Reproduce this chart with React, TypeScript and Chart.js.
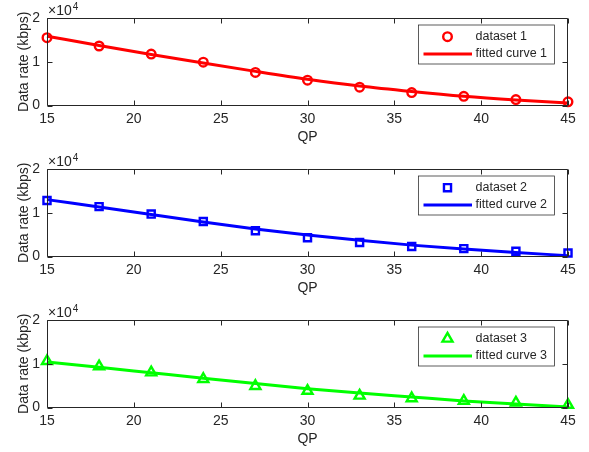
import React, { useEffect, useRef } from 'react';
import { Chart, registerables } from 'chart.js';

Chart.register(...registerables);

// ---- Data ----
const qp = [15, 18, 21, 24, 27, 30, 33, 36, 39, 42, 45];
const xTickValues = [15, 20, 25, 30, 35, 40, 45];
const yTickValues = [0, 1, 2]; // x 10^4

const dataset1 = [15500, 13600, 11750, 9900, 7550, 5800, 4200, 2950, 2100, 1350, 850];
const fitted1 = [15850, 13700, 11650, 9700, 7800, 6000, 4450, 3200, 2100, 1250, 550];

const dataset2 = [12800, 11400, 9700, 8000, 5900, 4300, 3200, 2300, 1800, 1200, 800];
const fitted2 = [13000, 11300, 9600, 7900, 6300, 4900, 3700, 2600, 1700, 900, 200];

const dataset3 = [10600, 9400, 8000, 6500, 4900, 3800, 2700, 2100, 1500, 1100, 600];
const fitted3 = [10400, 9200, 7950, 6700, 5500, 4300, 3300, 2400, 1500, 800, 100];

const legendLabels1 = ['dataset 1', 'fitted curve 1'];
const legendLabels2 = ['dataset 2', 'fitted curve 2'];
const legendLabels3 = ['dataset 3', 'fitted curve 3'];

const FONT = "'Liberation Sans', Arial, Helvetica, sans-serif";
const AXIS = '#262626';

type Marker = 'circle' | 'rect' | 'triangle';

function drawMarker(ctx: CanvasRenderingContext2D, style: Marker, x: number, y: number, r: number) {
  ctx.beginPath();
  if (style === 'circle') {
    ctx.arc(x, y, r, 0, Math.PI * 2);
  } else if (style === 'rect') {
    const s = r * Math.SQRT1_2;
    ctx.rect(x - s, y - s, 2 * s, 2 * s);
  } else {
    let rad = 0;
    ctx.moveTo(x + Math.sin(rad) * r, y - Math.cos(rad) * r);
    rad += (2 * Math.PI) / 3;
    ctx.lineTo(x + Math.sin(rad) * r, y - Math.cos(rad) * r);
    rad += (2 * Math.PI) / 3;
    ctx.lineTo(x + Math.sin(rad) * r, y - Math.cos(rad) * r);
    ctx.closePath();
  }
  ctx.stroke();
}

const matlabPlugin = {
  id: 'matlabAxes',
  afterDraw(chart: any, _args: any, opts: any) {
    const ctx: CanvasRenderingContext2D = chart.ctx;
    const { left, right, top, bottom } = chart.chartArea;
    const xs = chart.scales.x;
    const ys = chart.scales.y;
    ctx.save();
    // box
    ctx.strokeStyle = AXIS;
    ctx.lineWidth = 1;
    const L = Math.round(left) + 0.5;
    const R = Math.round(right) - 0.5;
    const T = Math.round(top) + 0.5;
    const B = Math.round(bottom) - 0.5;
    ctx.beginPath();
    ctx.rect(L, T, R - L, B - T);
    ctx.stroke();
    // inward ticks
    const tl = 5;
    ctx.beginPath();
    xTickValues.forEach((v) => {
      const px = Math.round(xs.getPixelForValue(v)) + 0.5;
      ctx.moveTo(px, B);
      ctx.lineTo(px, B - tl);
      ctx.moveTo(px, T);
      ctx.lineTo(px, T + tl);
    });
    yTickValues.forEach((v) => {
      const py = Math.round(ys.getPixelForValue(v * 10000)) + 0.5;
      ctx.moveTo(L, py);
      ctx.lineTo(L + tl, py);
      ctx.moveTo(R, py);
      ctx.lineTo(R - tl, py);
    });
    ctx.stroke();

    // exponent label
    ctx.fillStyle = AXIS;
    ctx.textBaseline = 'middle';
    ctx.textAlign = 'left';
    ctx.font = `14px ${FONT}`;
    const baseX = left + 1;
    const baseY = top - 7;
    ctx.fillText('\u00d710', baseX, baseY);
    const w = ctx.measureText('\u00d710').width;
    ctx.font = `10px ${FONT}`;
    ctx.fillText('4', baseX + w + 1, baseY - 4);

    // legend
    const bw = 136;
    const bh = 39;
    const bx = right - 13.5 - bw;
    const by = top + 7;
    ctx.fillStyle = '#ffffff';
    ctx.fillRect(bx, by, bw, bh);
    ctx.strokeStyle = AXIS;
    ctx.lineWidth = 0.75;
    ctx.strokeRect(bx, by, bw, bh);

    const color = opts.color;
    const row1 = by + 11.7;
    const row2 = by + 29;
    ctx.strokeStyle = color;
    ctx.lineWidth = opts.markerWidth;
    drawMarker(ctx, opts.marker, bx + 29, row1, opts.markerRadius);
    ctx.lineWidth = 3;
    ctx.beginPath();
    ctx.moveTo(bx + 5, row2);
    ctx.lineTo(bx + 53.5, row2);
    ctx.stroke();

    ctx.fillStyle = AXIS;
    ctx.font = `12.5px ${FONT}`;
    ctx.textBaseline = 'middle';
    ctx.fillText(opts.labels[0], bx + 57, row1);
    ctx.fillText(opts.labels[1], bx + 57, row2);
    ctx.restore();
  },
};

interface PanelProps {
  values: number[];
  fit: number[];
  color: string;
  marker: Marker;
  markerRadius: number;
  markerWidth: number;
  labels: string[];
  top: number;
}

function Panel({ values, fit, color, marker, markerRadius, markerWidth, labels, top }: PanelProps) {
  const ref = useRef<HTMLCanvasElement>(null);
  useEffect(() => {
    if (!ref.current) return;
    const chart = new Chart(ref.current, {
      type: 'scatter',
      data: {
        datasets: [
          {
            label: labels[0],
            data: qp.map((q, i) => ({ x: q, y: values[i] })),
            pointStyle: marker,
            pointRadius: markerRadius,
            pointBorderWidth: markerWidth,
            borderColor: color,
            backgroundColor: 'rgba(0,0,0,0)',
            pointBackgroundColor: 'rgba(0,0,0,0)',
            showLine: false,
            clip: false as any,
            order: 1,
          },
          {
            label: labels[1],
            data: qp.map((q, i) => ({ x: q, y: fit[i] })),
            showLine: true,
            pointRadius: 0,
            borderColor: color,
            backgroundColor: color,
            borderWidth: 3,
            cubicInterpolationMode: 'monotone',
            clip: false as any,
            order: 0,
          },
        ],
      } as any,
      options: {
        responsive: false,
        animation: false,
        events: [],
        layout: { padding: { top: 18, right: 21, left: 0, bottom: 0 } },
        plugins: {
          legend: { display: false },
          tooltip: { enabled: false },
          matlabAxes: { color, marker, markerRadius, markerWidth, labels },
        } as any,
        scales: {
          x: {
            type: 'linear',
            min: 15,
            max: 45,
            afterFit: (s: any) => {
              s.height = 44.5;
            },
            afterBuildTicks: (s: any) => {
              s.ticks = xTickValues.map((v) => ({ value: v }));
            },
            grid: { display: false, drawTicks: false },
            border: { display: false },
            ticks: {
              padding: 5,
              color: AXIS,
              font: { family: FONT, size: 14 },
              maxRotation: 0,
              autoSkip: false,
            },
            title: {
              display: true,
              text: 'QP',
              color: AXIS,
              font: { family: FONT, size: 14 },
              padding: { top: 0, bottom: 4.5 },
            },
          },
          y: {
            type: 'linear',
            min: 0,
            max: 20000,
            afterFit: (s: any) => {
              s.width = 47;
            },
            afterBuildTicks: (s: any) => {
              s.ticks = yTickValues.map((v) => ({ value: v * 10000 }));
            },
            grid: { display: false, drawTicks: false },
            border: { display: false },
            ticks: {
              padding: 7,
              color: AXIS,
              font: { family: FONT, size: 14 },
              callback: (v: any) => String(Number(v) / 10000),
            },
            title: {
              display: true,
              text: 'Data rate (kbps)',
              color: AXIS,
              font: { family: FONT, size: 14 },
              padding: { top: 15.5, bottom: 0 },
            },
          },
        },
      } as any,
      plugins: [matlabPlugin],
    });
    return () => chart.destroy();
  }, []);
  return (
    <canvas
      ref={ref}
      width={589}
      height={150}
      style={{ position: 'absolute', left: 0, top, width: 589, height: 150 }}
    />
  );
}

export default function App() {
  return (
    <div style={{ position: 'absolute', left: 0, top: 0, width: 589, height: 452, background: '#ffffff' }}>
      <Panel values={dataset1} fit={fitted1} color="#ff0000" marker="circle" markerRadius={4.3} markerWidth={2.4} labels={legendLabels1} top={0} />
      <Panel values={dataset2} fit={fitted2} color="#0000ff" marker="rect" markerRadius={5} markerWidth={2.4} labels={legendLabels2} top={151} />
      <Panel values={dataset3} fit={fitted3} color="#00ff00" marker="triangle" markerRadius={5.8} markerWidth={2.4} labels={legendLabels3} top={302} />
    </div>
  );
}
